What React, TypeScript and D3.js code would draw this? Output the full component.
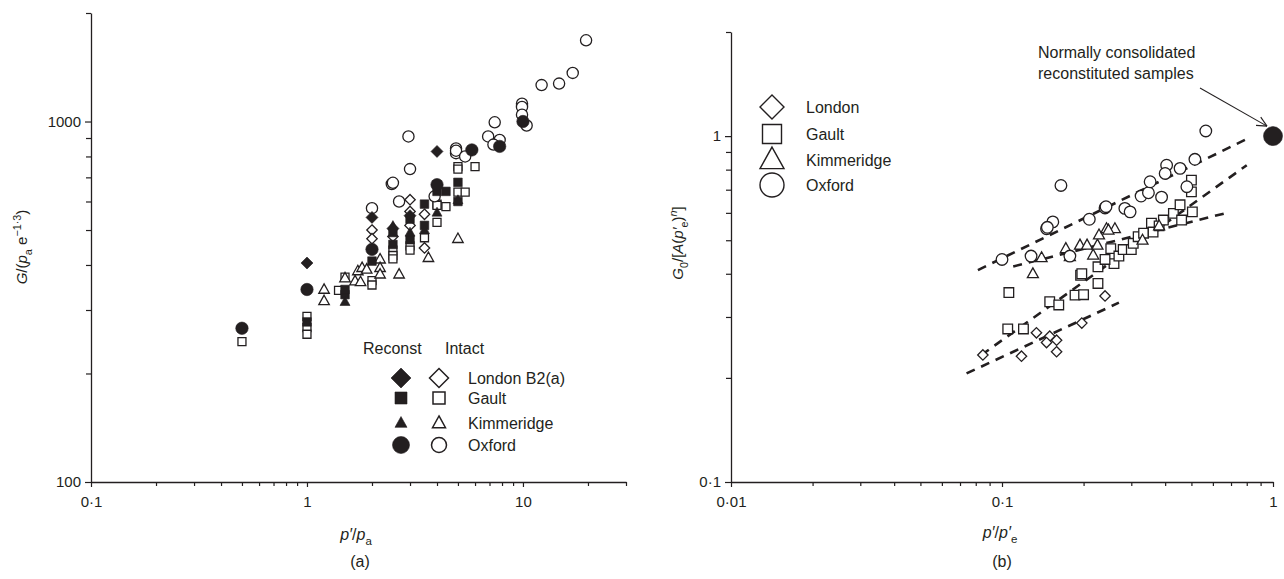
import React, { useEffect, useRef } from "react";
import * as d3 from "d3";

type Pt = [number, number];

// ---------- Panel (a) data: [p'/pa, G/(pa e^-1.3)] ----------
const londonReconstA: Pt[] = [[1, 405], [2, 542], [4, 826], [2.5, 505], [3, 548]];
const londonIntactA: Pt[] = [[2, 500], [2, 473], [2.5, 480], [3, 607], [3, 563], [3, 515], [3.5, 553], [3.5, 446]];
const gaultReconstA: Pt[] = [[1, 278], [1.5, 331], [1.5, 342], [2, 410], [2.5, 492], [2.5, 456], [3, 536], [3, 470], [3.5, 590], [3.5, 515], [4, 640], [4.4, 640], [5, 678], [5, 600]];
const gaultIntactA: Pt[] = [[0.5, 245], [1, 288], [1, 268], [1, 257], [1.4, 340], [1.5, 370], [2, 362], [2, 352], [2.5, 440], [2.5, 425], [2.5, 416], [3, 452], [3, 440], [3.5, 476], [4, 590], [4, 585], [4, 525], [4.4, 581], [5, 637], [5.4, 637], [5, 750], [5, 738], [6, 750]];
const kimReconstA: Pt[] = [[1.5, 316], [2.5, 513], [3, 492], [3.5, 500], [4, 559], [5, 605]];
const kimIntactA: Pt[] = [[1.2, 342], [1.2, 318], [1.5, 368], [1.67, 361], [1.72, 385], [1.8, 393], [1.89, 389], [1.77, 359], [2.18, 415], [2.18, 393], [2.18, 377], [2.67, 377], [3.65, 419], [5, 473]];
const oxfordReconstA: Pt[] = [[0.5, 267], [1, 342], [2, 442], [4, 668], [5.8, 834], [7.8, 853], [10, 1000]];
const oxfordIntactA: Pt[] = [[2, 575], [2.47, 671], [2.5, 676], [2.67, 600], [3, 738], [2.95, 909], [3.9, 620], [4.9, 842], [4.9, 817], [4.9, 830], [5.4, 800], [7.4, 995], [6.9, 909], [7.8, 889], [7.3, 863], [9.9, 1121], [9.9, 1097], [9.9, 1045], [10.4, 975], [12.2, 1262], [14.7, 1274], [17, 1364], [19.6, 1680]];

// ---------- Panel (b) data: [p'/p'e, G0/[A(p'e)^n]] ----------
const londonB: Pt[] = [[0.085, 0.233], [0.118, 0.231], [0.134, 0.27], [0.15, 0.264], [0.159, 0.257], [0.146, 0.253], [0.159, 0.238], [0.197, 0.288], [0.24, 0.345]];
const gaultB: Pt[] = [[0.106, 0.353], [0.105, 0.277], [0.12, 0.277], [0.15, 0.332], [0.162, 0.325], [0.186, 0.347], [0.2, 0.348], [0.195, 0.396], [0.197, 0.4], [0.226, 0.419], [0.226, 0.375], [0.259, 0.428], [0.252, 0.473], [0.24, 0.44], [0.27, 0.45], [0.28, 0.47], [0.3, 0.47], [0.305, 0.49], [0.318, 0.512], [0.333, 0.524], [0.356, 0.56], [0.361, 0.528], [0.38, 0.55], [0.394, 0.572], [0.429, 0.598], [0.46, 0.572], [0.454, 0.633], [0.504, 0.604], [0.5, 0.746], [0.5, 0.69]];
const kimmeridgeB: Pt[] = [[0.14, 0.445], [0.13, 0.4], [0.172, 0.473], [0.178, 0.448], [0.194, 0.484], [0.206, 0.484], [0.217, 0.453], [0.225, 0.484], [0.228, 0.518], [0.243, 0.54], [0.261, 0.54], [0.247, 0.535], [0.33, 0.5], [0.38, 0.55]];
const oxfordB: Pt[] = [[0.165, 0.72], [0.24, 0.62], [0.242, 0.625], [0.21, 0.575], [0.154, 0.565], [0.146, 0.54], [0.147, 0.545], [0.1, 0.44], [0.128, 0.45], [0.178, 0.45], [0.284, 0.618], [0.297, 0.604], [0.326, 0.671], [0.347, 0.686], [0.352, 0.738], [0.388, 0.666], [0.405, 0.824], [0.4, 0.78], [0.454, 0.807], [0.481, 0.714], [0.515, 0.857], [0.565, 1.035]];
const ncPointB: Pt[] = [[1, 1]];

const oxfordFit: Pt[] = [[0.0815, 0.41], [0.82, 0.99]];
const kimmeridgeFit: Pt[] = [[0.11, 0.42], [0.665, 0.598]];
const gaultFit: Pt[] = [[0.084, 0.233], [0.8, 0.824]];
const londonFit: Pt[] = [[0.074, 0.206], [0.27, 0.33]];

// ---------- Ticks ----------
const aXMajor = [0.1, 1, 10];
const aXMajorLabels = ["0·1", "1", "10"];
const aXMinor = [0.2, 0.3, 0.4, 0.5, 0.6, 0.7, 0.8, 0.9, 2, 3, 4, 5, 6, 7, 8, 9, 20, 30];
const aYMajor = [100, 1000];
const aYMajorLabels = ["100", "1000"];
const aYMinor = [200, 300, 400, 500, 600, 700, 800, 900, 2000];
const bXMajor = [0.01, 0.1, 1];
const bXMajorLabels = ["0·01", "0·1", "1"];
const bXMinor = [0.02, 0.03, 0.04, 0.05, 0.06, 0.07, 0.08, 0.09, 0.2, 0.3, 0.4, 0.5, 0.6, 0.7, 0.8, 0.9];
const bYMajor = [0.1, 1];
const bYMajorLabels = ["0·1", "1"];
const bYMinor = [0.2, 0.3, 0.4, 0.5, 0.6, 0.7, 0.8, 0.9, 2];

const legendALabels = ["London B2(a)", "Gault", "Kimmeridge", "Oxford"];
const legendBLabels = ["London", "Gault", "Kimmeridge", "Oxford"];

const INK = "#231f20";
const FONT = "'Liberation Sans', Arial, Helvetica, sans-serif";

type Shape = "diamond" | "square" | "triangle" | "circle";

function shapePath(shape: Shape, s: number): string {
  if (shape === "diamond") return `M0,${-s}L${s},0L0,${s}L${-s},0Z`;
  if (shape === "square") return `M${-s},${-s}H${s}V${s}H${-s}Z`;
  const h = s * 0.9;
  return `M0,${-h * 0.6}L${s / 2},${h * 0.4}L${-s / 2},${h * 0.4}Z`;
}

function addSym(g: any, shape: Shape, x: number, y: number, s: number, filled: boolean, sw = 1.3) {
  let el;
  if (shape === "circle") el = g.append("circle").attr("cx", x).attr("cy", y).attr("r", s);
  else el = g.append("path").attr("transform", `translate(${x},${y})`).attr("d", shapePath(shape, s));
  el.attr("fill", filled ? INK : "#fff").attr("stroke", INK).attr("stroke-width", filled ? 0.6 : sw);
}

type Part = { t: string; it?: boolean; sub?: boolean; sup?: boolean };

function rich(g: any, x: number, y: number, parts: Part[], fs: number, anchor = "middle") {
  const t = g.append("text").attr("x", x).attr("y", y).attr("text-anchor", anchor)
    .attr("font-size", fs).attr("font-family", FONT).attr("fill", INK);
  let shift = 0;
  parts.forEach((p) => {
    const target = p.sub ? fs * 0.3 : p.sup ? -fs * 0.42 : 0;
    const ts = t.append("tspan").text(p.t).attr("dy", target - shift);
    shift = target;
    if (p.sub || p.sup) ts.attr("font-size", fs * 0.72);
    if (p.it) ts.attr("font-style", "italic");
  });
  return t;
}

export default function App() {
  const ref = useRef<SVGSVGElement>(null);
  useEffect(() => {
    document.body.style.margin = "0";
    const svg = d3.select(ref.current!);
    svg.selectAll("*").remove();

    const xA = d3.scaleLog().domain([0.1, 30]).range([91, 626]);
    const yA = d3.scaleLog().domain([100, 2000]).range([482, 13]);
    const xB = d3.scaleLog().domain([0.01, 1]).range([731, 1273]);
    const yB = d3.scaleLog().domain([0.1, 2]).range([482, 32]);

    const styleAxis = (g: any) => {
      g.selectAll("path.domain").attr("stroke", INK).attr("stroke-width", 1.3);
      g.selectAll(".tick line").attr("stroke", INK).attr("stroke-width", 1.2);
      g.selectAll(".tick text").attr("font-family", FONT).attr("font-size", 15).attr("fill", INK);
    };

    const drawAxes = (x: any, y: any, xMaj: number[], xLab: string[], xMin: number[], yMaj: number[], yLab: string[], yMin: number[]) => {
      const y0 = y.range()[0];
      const x0 = x.range()[0];
      const gxm = svg.append("g").attr("transform", `translate(0,${y0})`)
        .call(d3.axisBottom(x).tickValues(xMin).tickSize(4).tickSizeOuter(0).tickFormat(() => ""));
      gxm.select("path.domain").remove();
      styleAxis(gxm);
      const gx = svg.append("g").attr("transform", `translate(0,${y0})`)
        .call(d3.axisBottom(x).tickValues(xMaj).tickSize(5).tickSizeOuter(0).tickPadding(9).tickFormat((_d: any, i: number) => xLab[i]));
      styleAxis(gx);
      const gym = svg.append("g").attr("transform", `translate(${x0},0)`)
        .call(d3.axisLeft(y).tickValues(yMin).tickSize(5).tickSizeOuter(0).tickFormat(() => ""));
      gym.select("path.domain").remove();
      styleAxis(gym);
      const gy = svg.append("g").attr("transform", `translate(${x0},0)`)
        .call(d3.axisLeft(y).tickValues(yMaj).tickSize(6).tickSizeOuter(0).tickPadding(4).tickFormat((_d: any, i: number) => yLab[i]));
      styleAxis(gy);
    };

    drawAxes(xA, yA, aXMajor, aXMajorLabels, aXMinor, aYMajor, aYMajorLabels, aYMinor);
    drawAxes(xB, yB, bXMajor, bXMajorLabels, bXMinor, bYMajor, bYMajorLabels, bYMinor);

    // ---------- Panel (a) points ----------
    const gA = svg.append("g");
    const plotA = (data: Pt[], shape: Shape, s: number, filled: boolean) =>
      data.forEach(([px, py]) => addSym(gA, shape, xA(px), yA(py), s, filled));
    plotA(gaultIntactA, "square", 4, false);
    plotA(kimIntactA, "triangle", 10.5, false);
    plotA(londonIntactA, "diamond", 5.2, false);
    plotA(oxfordIntactA, "circle", 5.6, false);
    plotA(gaultReconstA, "square", 4.3, true);
    plotA(kimReconstA, "triangle", 10, true);
    plotA(londonReconstA, "diamond", 6, true);
    plotA(oxfordReconstA, "circle", 6.2, true);

    // legend (a)
    const lg = svg.append("g");
    lg.append("text").attr("x", 363).attr("y", 354).text("Reconst").attr("font-size", 16).attr("font-family", FONT).attr("fill", INK);
    lg.append("text").attr("x", 445).attr("y", 354).text("Intact").attr("font-size", 16).attr("font-family", FONT).attr("fill", INK);
    const rowsA = [378, 398, 423, 445];
    const legShapes: Shape[] = ["diamond", "square", "triangle", "circle"];
    const legFilled = [10, 6, 12, 8.5];
    const legOpen = [9.5, 6, 13, 7.5];
    legShapes.forEach((sh, i) => {
      addSym(lg, sh, 401, rowsA[i], legFilled[i], true);
      addSym(lg, sh, 439, rowsA[i], legOpen[i], false, 1.5);
      lg.append("text").attr("x", 468).attr("y", rowsA[i] + 5.5).text(legendALabels[i])
        .attr("font-size", 16).attr("font-family", FONT).attr("fill", INK);
    });

    // ---------- Panel (b) ----------
    const gB = svg.append("g");
    const line = d3.line<Pt>().x((d) => xB(d[0])).y((d) => yB(d[1]));
    [oxfordFit, kimmeridgeFit, gaultFit, londonFit].forEach((f) =>
      gB.append("path").attr("d", line(f)!).attr("fill", "none").attr("stroke", INK)
        .attr("stroke-width", 2.6).attr("stroke-dasharray", "9,7"));
    const plotB = (data: Pt[], shape: Shape, s: number, filled: boolean) =>
      data.forEach(([px, py]) => addSym(gB, shape, xB(px), yB(py), s, filled));
    plotB(londonB, "diamond", 5.2, false);
    plotB(gaultB, "square", 4.8, false);
    plotB(kimmeridgeB, "triangle", 11, false);
    plotB(oxfordB, "circle", 5.8, false);
    plotB(ncPointB, "circle", 9.5, true);

    // legend (b)
    const lb = svg.append("g");
    const rowsB = [107, 134, 160, 185];
    const legB = [12, 9.5, 24, 12];
    legShapes.forEach((sh, i) => {
      addSym(lb, sh, 772, rowsB[i], legB[i], false, 1.4);
      lb.append("text").attr("x", 806).attr("y", rowsB[i] + 6).text(legendBLabels[i])
        .attr("font-size", 16).attr("font-family", FONT).attr("fill", INK);
    });

    // annotation
    const ann = svg.append("g");
    ann.append("text").attr("x", 1038).attr("y", 58).text("Normally consolidated")
      .attr("font-size", 16).attr("font-family", FONT).attr("fill", INK);
    ann.append("text").attr("x", 1038).attr("y", 79).text("reconstituted samples")
      .attr("font-size", 16).attr("font-family", FONT).attr("fill", INK);
    const ax0 = 1200, ay0 = 88, ax1 = xB(1) - 6, ay1 = yB(1) - 10;
    ann.append("line").attr("x1", ax0).attr("y1", ay0).attr("x2", ax1).attr("y2", ay1)
      .attr("stroke", INK).attr("stroke-width", 1.1);
    const ang = Math.atan2(ay1 - ay0, ax1 - ax0);
    [0.45, -0.45].forEach((da) => {
      ann.append("line").attr("x1", ax1).attr("y1", ay1)
        .attr("x2", ax1 - 11 * Math.cos(ang + da)).attr("y2", ay1 - 11 * Math.sin(ang + da))
        .attr("stroke", INK).attr("stroke-width", 1.1);
    });

    // axis titles
    const gl = svg.append("g").attr("transform", "translate(27,247) rotate(-90)");
    rich(gl, 0, 0, [{ t: "G", it: true }, { t: "/(" }, { t: "p", it: true }, { t: "a", sub: true }, { t: " e" }, { t: "−1·3", sup: true }, { t: ")" }], 15);
    const gr = svg.append("g").attr("transform", "translate(683,243) rotate(-90)");
    rich(gr, 0, 0, [{ t: "G", it: true }, { t: "0", sub: true }, { t: "/[" }, { t: "A", it: true }, { t: "(" }, { t: "p′", it: true }, { t: "e", sub: true }, { t: ")" }, { t: "n", sup: true, it: true }, { t: "]" }], 15);

    rich(svg, 356, 540, [{ t: "p′", it: true }, { t: "/" }, { t: "p", it: true }, { t: "a", sub: true }], 16);
    rich(svg, 1000, 538, [{ t: "p′", it: true }, { t: "/" }, { t: "p′", it: true }, { t: "e", sub: true }], 16);
    svg.append("text").attr("x", 360).attr("y", 567).attr("text-anchor", "middle").text("(a)")
      .attr("font-size", 16).attr("font-family", FONT).attr("fill", INK);
    svg.append("text").attr("x", 1002).attr("y", 567).attr("text-anchor", "middle").text("(b)")
      .attr("font-size", 16).attr("font-family", FONT).attr("fill", INK);
  }, []);
  return <svg ref={ref} width={1284} height={579} style={{ display: "block", background: "#fff" }} />;
}
